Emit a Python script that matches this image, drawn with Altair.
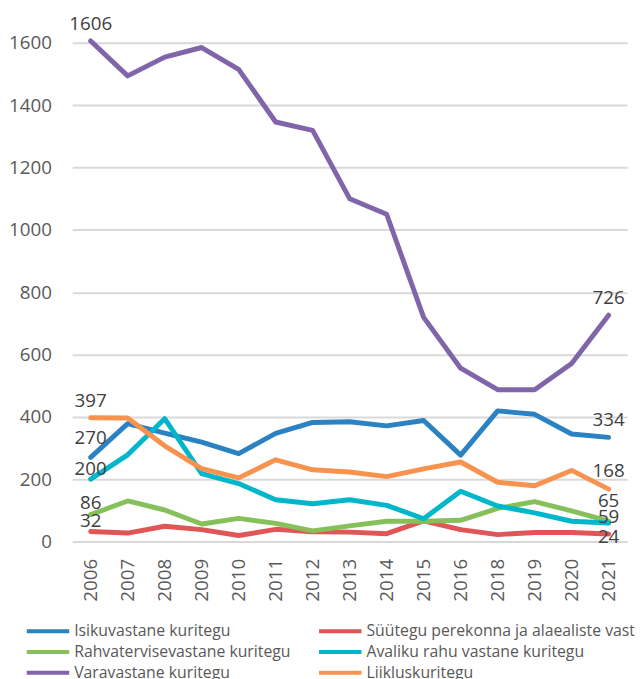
import altair as alt
import pandas as pd

years = ["2006", "2007", "2008", "2009", "2010", "2011", "2012", "2013",
         "2014", "2015", "2016", "2018", "2019", "2020", "2021"]

series_names = [
    "Isikuvastane kuritegu",
    "Süütegu perekonna ja alaealiste vastu",
    "Rahvatervisevastane kuritegu",
    "Avaliku rahu vastane kuritegu",
    "Varavastane kuritegu",
    "Liikluskuritegu",
]

isiku = [270, 378, 348, 319, 282, 347, 382, 384, 371, 388, 277, 419, 408, 345, 334]
syytegu = [32, 27, 49, 38, 19, 39, 31, 30, 25, 66, 38, 22, 29, 29, 24]
rahva = [86, 130, 101, 56, 74, 58, 34, 50, 65, 65, 68, 106, 128, 98, 65]
avaliku = [200, 278, 394, 218, 186, 134, 121, 134, 116, 73, 161, 114, 92, 65, 59]
vara = [1606, 1494, 1554, 1585, 1515, 1346, 1319, 1100, 1050, 719, 556, 487, 487, 571, 726]
liiklus = [397, 396, 307, 234, 204, 262, 230, 223, 208, 233, 255, 190, 179, 228, 168]

colors = ["#2A82C2", "#E05555", "#86C05A", "#00B6CB", "#8165A9", "#F7934F"]

y_ticks = [0, 200, 400, 600, 800, 1000, 1200, 1400, 1600]

# labelled points: (series, year) and vertical offset of the label (style)
label_points = [
    ("Varavastane kuritegu", "2006", -17),
    ("Varavastane kuritegu", "2021", -17),
    ("Isikuvastane kuritegu", "2006", -20),
    ("Isikuvastane kuritegu", "2021", -18),
    ("Liikluskuritegu", "2006", -17),
    ("Liikluskuritegu", "2021", -18),
    ("Avaliku rahu vastane kuritegu", "2006", -10),
    ("Avaliku rahu vastane kuritegu", "2021", -6),
    ("Rahvatervisevastane kuritegu", "2006", -12),
    ("Rahvatervisevastane kuritegu", "2021", -20),
    ("Süütegu perekonna ja alaealiste vastu", "2006", -11),
    ("Süütegu perekonna ja alaealiste vastu", "2021", 3),
]

all_values = [isiku, syytegu, rahva, avaliku, vara, liiklus]
rows = []
for name, vals in zip(series_names, all_values):
    for yr, v in zip(years, vals):
        rows.append({"year": yr, "series": name, "value": v})
df = pd.DataFrame(rows)

FONT = "Open Sans"

x_enc = alt.X(
    "year:O",
    sort=years,
    scale=alt.Scale(type="point", padding=0.5),
    axis=alt.Axis(
        title=None, labelAngle=270, labelAlign="right", labelBaseline="middle",
        labelPadding=17, ticks=False, domain=False, grid=False,
        labelFont=FONT, labelFontSize=19, labelColor="#595959",
    ),
)
y_enc = alt.Y(
    "value:Q",
    scale=alt.Scale(domain=[0, 1600], nice=False, zero=True),
    axis=alt.Axis(
        title=None, values=y_ticks, format="d", grid=True, gridColor="#D9D9D9",
        gridWidth=2, domain=False, ticks=False, labelPadding=21,
        labelFont=FONT, labelFontSize=19, labelColor="#595959",
    ),
)

lines = alt.Chart(df).mark_line(
    strokeWidth=5, strokeCap="round", strokeJoin="round"
).encode(
    x=x_enc,
    y=y_enc,
    color=alt.Color(
        "series:N",
        sort=series_names,
        scale=alt.Scale(domain=series_names, range=colors),
        legend=alt.Legend(
            title=None, orient="none", legendX=-48, legendY=588,
            direction="horizontal", columns=2, columnPadding=26,
            rowPadding=5, padding=0, clipHeight=16,
            symbolType="stroke", symbolSize=1849, symbolStrokeWidth=4,
            labelFont=FONT, labelFontSize=16, labelColor="#595959",
            labelLimit=400, labelOffset=3,
        ),
    ),
)

layers = [lines]
for name, yr, dy in label_points:
    layers.append(
        alt.Chart(df).transform_filter(
            (alt.datum.series == name) & (alt.datum.year == yr)
        ).mark_text(
            dy=dy, align="center", baseline="middle",
            font=FONT, fontSize=19, color="#404040",
        ).encode(
            x=alt.X("year:O", sort=years, scale=alt.Scale(type="point", padding=0.5)),
            y=alt.Y("value:Q"),
            text=alt.Text("value:Q"),
        )
    )

chart = alt.layer(*layers).properties(
    width=562,
    height=505,
    autosize=alt.AutoSizeParams(type="none"),
    padding={"left": 65, "top": 31, "right": 9, "bottom": 135},
    background="white",
).configure_view(stroke=None)

chart.save("out.html", embed_options={"renderer": "svg", "actions": False})
